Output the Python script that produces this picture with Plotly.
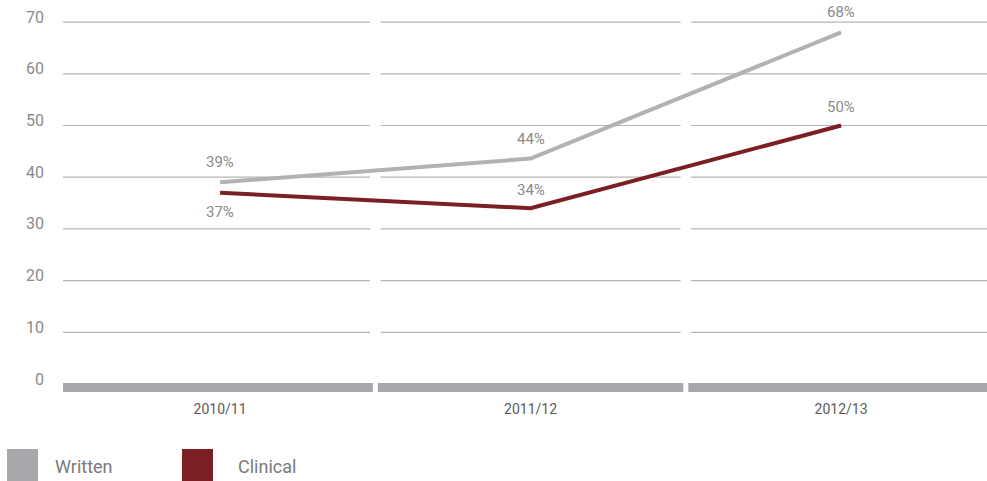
import plotly.graph_objects as go

categories = ["2010/11", "2011/12", "2012/13"]
written = [39, 43.6, 68]
clinical = [37, 34, 50]
series_names = ["Written", "Clinical"]
y_ticks = [0, 10, 20, 30, 40, 50, 60, 70]

W, H = 987, 481
ML, MR, MT, MB = 63, 0, 12, 89
PW, PH = W - ML - MR, H - MT - MB
PX_PER_UNIT = 5.17
Y_BOTTOM = -1.55

C_WRITTEN = "#b1b2b4"
C_CLIN = "#7b1f24"
C_LEG_W = "#a7a8ab"
C_LEG_C = "#7a2024"
FONT = "Roboto"
LABEL_C = "#8a8a8a"

fig = go.Figure()
fig.add_trace(go.Scatter(x=categories, y=written, mode="lines", name=series_names[0],
                         line=dict(color=C_WRITTEN, width=4), showlegend=False))
fig.add_trace(go.Scatter(x=categories, y=clinical, mode="lines", name=series_names[1],
                         line=dict(color=C_CLIN, width=4), showlegend=False))

# data labels
for i, c in enumerate(categories):
    fig.add_annotation(x=c, y=written[i], text=f"{round(written[i])}%", showarrow=False,
                       yshift=20, font=dict(family=FONT, size=15, color=LABEL_C))
    below = i == 0
    fig.add_annotation(x=c, y=clinical[i], text=f"{round(clinical[i])}%", showarrow=False,
                       yshift=-19 if below else 18, font=dict(family=FONT, size=15, color=LABEL_C))

shapes = []
n = len(categories)
# segmented gridlines
ggap = 0.017
for t in y_ticks[1:]:
    for i in range(n):
        x0 = i - 0.5 + (ggap if i > 0 else -0.1)
        x1 = i + 0.5 - (ggap if i < n - 1 else -0.2)
        shapes.append(dict(type="line", xref="x", yref="y", x0=x0, x1=x1, y0=t, y1=t,
                           line=dict(color="#b5b5b5", width=1.2), layer="below"))
# base bar segments
gap = 0.008
for i in range(n):
    x0 = i - 0.5 + (gap if i > 0 else -0.1)
    x1 = i + 0.5 - (gap if i < n - 1 else -0.2)
    shapes.append(dict(type="rect", xref="x", yref="y", x0=x0, x1=x1,
                       y0=0.2, y1=Y_BOTTOM, fillcolor="#a7a8ab", line=dict(width=0), layer="below"))

# legend (manual)
def px_x(p):
    return (p - ML) / PW

def px_y(p):
    return (H - MB - p) / PH

leg = [(series_names[0], C_LEG_W, 7, 53), (series_names[1], C_LEG_C, 182, 236)]
for name, col, sx, tx in leg:
    shapes.append(dict(type="rect", xref="paper", yref="paper", x0=px_x(sx), x1=px_x(sx + 31),
                       y0=px_y(449), y1=px_y(490), fillcolor=col, line=dict(width=0)))
    fig.add_annotation(xref="paper", yref="paper", x=px_x(tx), y=px_y(466), text=name,
                       showarrow=False, xanchor="left", yanchor="middle",
                       font=dict(family=FONT, size=18, color="#7a7a7a"))

fig.update_layout(
    width=W, height=H,
    margin=dict(l=ML, r=MR, t=MT, b=MB),
    plot_bgcolor="white", paper_bgcolor="white",
    shapes=shapes,
    showlegend=False,
    font=dict(family=FONT),
)
fig.update_xaxes(type="category", range=[-0.506, 2.47], showgrid=False, zeroline=False,
                 showline=False, ticks="", ticklabelstandoff=7,
                 tickfont=dict(family=FONT, size=14, color="#5a5a5a"))
fig.update_yaxes(range=[Y_BOTTOM, PH / PX_PER_UNIT + Y_BOTTOM], tickvals=y_ticks,
                 showgrid=False, zeroline=False,
                 showline=False, ticks="", ticklabelshift=-5, ticklabelstandoff=18,
                 tickfont=dict(family=FONT, size=16, color=LABEL_C))

fig.write_html("out.html", config={"displayModeBar": False},
               post_script="document.body.style.margin='0';document.body.style.overflow='hidden';")
